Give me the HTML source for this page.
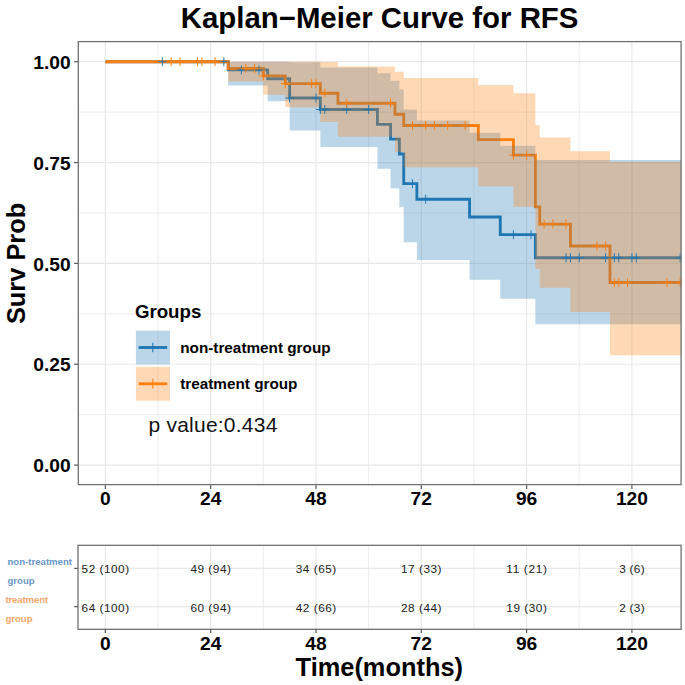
<!DOCTYPE html>
<html><head><meta charset="utf-8"><style>
html,body{margin:0;padding:0;background:#fff;}
body{width:685px;height:685px;overflow:hidden;}
svg{display:block;}
text{font-family:"Liberation Sans",sans-serif;}
</style></head><body>
<svg width="685" height="685" viewBox="0 0 685 685" font-family="Liberation Sans, sans-serif">
<rect width="685" height="685" fill="#fff"/>
<defs><clipPath id="cp"><rect x="77.93" y="41.53" width="603.37" height="443.74"/></clipPath>
<clipPath id="cr"><rect x="77.93" y="545.3" width="603.37" height="84.00"/></clipPath></defs>
<text x="379.6" y="28.1" text-anchor="middle" font-weight="bold" font-size="29.4">Kaplan−Meier Curve for RFS</text>
<g clip-path="url(#cp)">
<line x1="105.35" y1="41.53" x2="105.35" y2="485.27" stroke="#E8E8E8" stroke-width="1.2"/><line x1="158.01" y1="41.53" x2="158.01" y2="485.27" stroke="#E8E8E8" stroke-width="0.85"/><line x1="210.66" y1="41.53" x2="210.66" y2="485.27" stroke="#E8E8E8" stroke-width="1.2"/><line x1="263.32" y1="41.53" x2="263.32" y2="485.27" stroke="#E8E8E8" stroke-width="0.85"/><line x1="315.97" y1="41.53" x2="315.97" y2="485.27" stroke="#E8E8E8" stroke-width="1.2"/><line x1="368.63" y1="41.53" x2="368.63" y2="485.27" stroke="#E8E8E8" stroke-width="0.85"/><line x1="421.29" y1="41.53" x2="421.29" y2="485.27" stroke="#E8E8E8" stroke-width="1.2"/><line x1="473.94" y1="41.53" x2="473.94" y2="485.27" stroke="#E8E8E8" stroke-width="0.85"/><line x1="526.60" y1="41.53" x2="526.60" y2="485.27" stroke="#E8E8E8" stroke-width="1.2"/><line x1="579.25" y1="41.53" x2="579.25" y2="485.27" stroke="#E8E8E8" stroke-width="0.85"/><line x1="631.91" y1="41.53" x2="631.91" y2="485.27" stroke="#E8E8E8" stroke-width="1.2"/><line x1="77.93" y1="465.10" x2="681.3" y2="465.10" stroke="#E8E8E8" stroke-width="1.2"/><line x1="77.93" y1="414.68" x2="681.3" y2="414.68" stroke="#E8E8E8" stroke-width="0.85"/><line x1="77.93" y1="364.25" x2="681.3" y2="364.25" stroke="#E8E8E8" stroke-width="1.2"/><line x1="77.93" y1="313.83" x2="681.3" y2="313.83" stroke="#E8E8E8" stroke-width="0.85"/><line x1="77.93" y1="263.40" x2="681.3" y2="263.40" stroke="#E8E8E8" stroke-width="1.2"/><line x1="77.93" y1="212.98" x2="681.3" y2="212.98" stroke="#E8E8E8" stroke-width="0.85"/><line x1="77.93" y1="162.55" x2="681.3" y2="162.55" stroke="#E8E8E8" stroke-width="1.2"/><line x1="77.93" y1="112.13" x2="681.3" y2="112.13" stroke="#E8E8E8" stroke-width="0.85"/><line x1="77.93" y1="61.70" x2="681.3" y2="61.70" stroke="#E8E8E8" stroke-width="1.2"/>
<path d="M105.35,61.70H228.21V69.93H267.71V78.71H289.65V98.03H320.36V109.50H377.41V124.32H390.57V139.14H399.35V153.95H403.73V183.59H416.90V199.23H469.55V216.95H500.27V234.68H535.37V257.72H690" stroke="#1F77B4" stroke-width="2.85" fill="none"/>
<path d="M105.35,61.70H228.21V68.54H263.32V75.88H285.26V83.67H320.36V93.20H337.91V103.25H394.96V114.22H403.73V125.54H478.33V139.68H513.43V155.18H535.37V206.83H539.76V224.05H570.48V245.97H609.97V282.49H690" stroke="#FF7F0E" stroke-width="2.85" fill="none"/>
<path d="M105.35,61.70H228.21V61.70H267.71V61.70H289.65V62.30H320.36V67.44H377.41V73.31H390.57V80.86H399.35V89.57H403.73V109.47H416.90V120.56H469.55V132.69H500.27V145.72H535.37V159.92H690.00V324.18H535.37V298.86H500.27V279.86H469.55V259.93H416.90V242.26H403.73V207.30H399.35V188.57H390.57V168.69H377.41V147.12H320.36V130.59H289.65V101.14H267.71V85.58H228.21V61.70H105.35Z" fill="#1F77B4" fill-opacity="0.3"/>
<path d="M105.35,61.70H228.21V61.70H263.32V61.70H285.26V61.70H320.36V61.99H337.91V66.46H394.96V71.81H403.73V78.03H478.33V85.03H513.43V93.18H535.37V124.89H539.76V137.44H570.48V151.20H609.97V161.86H690.00V355.13H609.97V312.12H570.48V287.77H539.76V269.04H535.37V206.84H513.43V186.48H478.33V167.21H403.73V152.05H394.96V136.65H337.91V122.00H320.36V107.14H285.26V94.73H263.32V81.60H228.21V61.70H105.35Z" fill="#FF7F0E" fill-opacity="0.3"/>
<path d="M157.89,61.70H166.89M162.39,57.20V66.20M219.33,61.70H228.33M223.83,57.20V66.20M236.88,69.93H245.88M241.38,65.43V74.43M254.43,69.93H263.43M258.93,65.43V74.43M285.15,98.03H294.15M289.65,93.53V102.53M311.47,98.03H320.47M315.97,93.53V102.53M315.86,109.50H324.86M320.36,105.00V114.00M320.25,109.50H329.25M324.75,105.00V114.00M342.19,109.50H351.19M346.69,105.00V114.00M364.13,109.50H373.13M368.63,105.00V114.00M408.01,183.59H417.01M412.51,179.09V188.09M421.17,199.23H430.17M425.67,194.73V203.73M508.93,234.68H517.93M513.43,230.18V239.18M526.49,234.68H535.49M530.99,230.18V239.18M561.59,257.72H570.59M566.09,253.22V262.22M565.98,257.72H574.98M570.48,253.22V262.22M574.75,257.72H583.75M579.25,253.22V262.22M601.08,257.72H610.08M605.58,253.22V262.22M609.86,257.72H618.86M614.36,253.22V262.22M614.25,257.72H623.25M618.75,253.22V262.22M627.41,257.72H636.41M631.91,253.22V262.22M631.80,257.72H640.80M636.30,253.22V262.22M675.68,257.72H684.68M680.18,253.22V262.22" stroke="#1F77B4" stroke-width="0.95" fill="none"/>
<path d="M166.67,61.70H175.67M171.17,57.20V66.20M175.45,61.70H184.45M179.95,57.20V66.20M193.00,61.70H202.00M197.50,57.20V66.20M197.39,61.70H206.39M201.89,57.20V66.20M210.55,61.70H219.55M215.05,57.20V66.20M241.27,68.54H250.27M245.77,64.04V73.04M250.04,68.54H259.04M254.54,64.04V73.04M258.82,75.88H267.82M263.32,71.38V80.38M280.76,83.67H289.76M285.26,79.17V88.17M307.09,83.67H316.09M311.59,79.17V88.17M311.47,83.67H320.47M315.97,79.17V88.17M320.25,93.20H329.25M324.75,88.70V97.70M342.19,103.25H351.19M346.69,98.75V107.75M386.07,103.25H395.07M390.57,98.75V107.75M408.01,125.54H417.01M412.51,121.04V130.04M421.17,125.54H430.17M425.67,121.04V130.04M429.95,125.54H438.95M434.45,121.04V130.04M443.11,125.54H452.11M447.61,121.04V130.04M460.67,125.54H469.67M465.17,121.04V130.04M508.93,155.18H517.93M513.43,150.68V159.68M522.10,155.18H531.10M526.60,150.68V159.68M539.65,224.05H548.65M544.15,219.55V228.55M548.43,224.05H557.43M552.93,219.55V228.55M561.59,224.05H570.59M566.09,219.55V228.55M592.31,245.97H601.31M596.81,241.47V250.47M601.08,245.97H610.08M605.58,241.47V250.47M609.86,282.49H618.86M614.36,277.99V286.99M614.25,282.49H623.25M618.75,277.99V286.99M623.02,282.49H632.02M627.52,277.99V286.99M662.51,282.49H671.51M667.01,277.99V286.99M675.68,282.49H684.68M680.18,277.99V286.99" stroke="#FF7F0E" stroke-width="0.95" fill="none"/>
</g>
<rect x="78.3" y="41.6" width="602.8" height="443.0" fill="none" stroke="#707070" stroke-width="1.3"/>
<text x="70.7" y="68.80" text-anchor="end" font-weight="bold" font-size="19.2" fill="#000">1.00</text><line x1="74.2" y1="61.70" x2="77.93" y2="61.70" stroke="#555" stroke-width="1.2"/><text x="70.7" y="169.65" text-anchor="end" font-weight="bold" font-size="19.2" fill="#000">0.75</text><line x1="74.2" y1="162.55" x2="77.93" y2="162.55" stroke="#555" stroke-width="1.2"/><text x="70.7" y="270.50" text-anchor="end" font-weight="bold" font-size="19.2" fill="#000">0.50</text><line x1="74.2" y1="263.40" x2="77.93" y2="263.40" stroke="#555" stroke-width="1.2"/><text x="70.7" y="371.35" text-anchor="end" font-weight="bold" font-size="19.2" fill="#000">0.25</text><line x1="74.2" y1="364.25" x2="77.93" y2="364.25" stroke="#555" stroke-width="1.2"/><text x="70.7" y="472.20" text-anchor="end" font-weight="bold" font-size="19.2" fill="#000">0.00</text><line x1="74.2" y1="465.10" x2="77.93" y2="465.10" stroke="#555" stroke-width="1.2"/>
<line x1="105.35" y1="485.27" x2="105.35" y2="488.97" stroke="#555" stroke-width="1.2"/><text x="105.35" y="505.3" text-anchor="middle" font-weight="bold" font-size="19.2">0</text><line x1="210.66" y1="485.27" x2="210.66" y2="488.97" stroke="#555" stroke-width="1.2"/><text x="210.66" y="505.3" text-anchor="middle" font-weight="bold" font-size="19.2">24</text><line x1="315.97" y1="485.27" x2="315.97" y2="488.97" stroke="#555" stroke-width="1.2"/><text x="315.97" y="505.3" text-anchor="middle" font-weight="bold" font-size="19.2">48</text><line x1="421.29" y1="485.27" x2="421.29" y2="488.97" stroke="#555" stroke-width="1.2"/><text x="421.29" y="505.3" text-anchor="middle" font-weight="bold" font-size="19.2">72</text><line x1="526.60" y1="485.27" x2="526.60" y2="488.97" stroke="#555" stroke-width="1.2"/><text x="526.60" y="505.3" text-anchor="middle" font-weight="bold" font-size="19.2">96</text><line x1="631.91" y1="485.27" x2="631.91" y2="488.97" stroke="#555" stroke-width="1.2"/><text x="631.91" y="505.3" text-anchor="middle" font-weight="bold" font-size="19.2">120</text>
<text transform="translate(24.9,263.4) rotate(-90)" text-anchor="middle" font-weight="bold" font-size="25.4">Surv Prob</text>
<text x="134.9" y="317.9" font-weight="bold" font-size="18.7">Groups</text>
<rect x="135.9" y="330.6" width="34.1" height="33.8" fill="none"/>
<line x1="138.7" y1="347.5" x2="167.2" y2="347.5" stroke="#1F77B4" stroke-width="2.85"/>
<rect x="135.9" y="330.6" width="34.1" height="33.8" fill="#1F77B4" fill-opacity="0.3"/>
<path d="M148.1,347.5H157.5M152.8,342.8V352.2" stroke="#1F77B4" stroke-width="1.1"/>
<line x1="138.7" y1="383.8" x2="167.2" y2="383.8" stroke="#FF7F0E" stroke-width="2.85"/>
<rect x="135.9" y="366.9" width="34.1" height="33.8" fill="#FF7F0E" fill-opacity="0.3"/>
<path d="M148.1,383.8H157.5M152.8,379.1V388.5" stroke="#FF7F0E" stroke-width="1.1"/>
<text x="180.2" y="353.3" font-weight="bold" font-size="15.3">non-treatment group</text>
<text x="180.2" y="389.4" font-weight="bold" font-size="15.3">treatment group</text>
<text x="148.4" y="432.2" font-size="21" fill="#111" textLength="129" lengthAdjust="spacing">p value:0.434</text>
<g clip-path="url(#cr)"><line x1="105.35" y1="545.3" x2="105.35" y2="629.3" stroke="#E8E8E8" stroke-width="1.2"/><line x1="158.01" y1="545.3" x2="158.01" y2="629.3" stroke="#E8E8E8" stroke-width="0.85"/><line x1="210.66" y1="545.3" x2="210.66" y2="629.3" stroke="#E8E8E8" stroke-width="1.2"/><line x1="263.32" y1="545.3" x2="263.32" y2="629.3" stroke="#E8E8E8" stroke-width="0.85"/><line x1="315.97" y1="545.3" x2="315.97" y2="629.3" stroke="#E8E8E8" stroke-width="1.2"/><line x1="368.63" y1="545.3" x2="368.63" y2="629.3" stroke="#E8E8E8" stroke-width="0.85"/><line x1="421.29" y1="545.3" x2="421.29" y2="629.3" stroke="#E8E8E8" stroke-width="1.2"/><line x1="473.94" y1="545.3" x2="473.94" y2="629.3" stroke="#E8E8E8" stroke-width="0.85"/><line x1="526.60" y1="545.3" x2="526.60" y2="629.3" stroke="#E8E8E8" stroke-width="1.2"/><line x1="579.25" y1="545.3" x2="579.25" y2="629.3" stroke="#E8E8E8" stroke-width="0.85"/><line x1="631.91" y1="545.3" x2="631.91" y2="629.3" stroke="#E8E8E8" stroke-width="1.2"/><line x1="77.93" y1="568.4" x2="681.3" y2="568.4" stroke="#E8E8E8" stroke-width="1.2"/><line x1="77.93" y1="606.6" x2="681.3" y2="606.6" stroke="#E8E8E8" stroke-width="1.2"/></g>
<text x="105.35" y="573.40" text-anchor="middle" font-size="11.8" fill="#222" textLength="47.5" lengthAdjust="spacing">52 (100)</text><text x="105.35" y="611.60" text-anchor="middle" font-size="11.8" fill="#222" textLength="47.5" lengthAdjust="spacing">64 (100)</text><text x="210.66" y="573.40" text-anchor="middle" font-size="11.8" fill="#222" textLength="40.5" lengthAdjust="spacing">49 (94)</text><text x="210.66" y="611.60" text-anchor="middle" font-size="11.8" fill="#222" textLength="40.5" lengthAdjust="spacing">60 (94)</text><text x="315.97" y="573.40" text-anchor="middle" font-size="11.8" fill="#222" textLength="40.5" lengthAdjust="spacing">34 (65)</text><text x="315.97" y="611.60" text-anchor="middle" font-size="11.8" fill="#222" textLength="40.5" lengthAdjust="spacing">42 (66)</text><text x="421.29" y="573.40" text-anchor="middle" font-size="11.8" fill="#222" textLength="40.5" lengthAdjust="spacing">17 (33)</text><text x="421.29" y="611.60" text-anchor="middle" font-size="11.8" fill="#222" textLength="40.5" lengthAdjust="spacing">28 (44)</text><text x="526.60" y="573.40" text-anchor="middle" font-size="11.8" fill="#222" textLength="40.5" lengthAdjust="spacing">11 (21)</text><text x="526.60" y="611.60" text-anchor="middle" font-size="11.8" fill="#222" textLength="40.5" lengthAdjust="spacing">19 (30)</text><text x="631.91" y="573.40" text-anchor="middle" font-size="11.8" fill="#222" textLength="25.5" lengthAdjust="spacing">3 (6)</text><text x="631.91" y="611.60" text-anchor="middle" font-size="11.8" fill="#222" textLength="25.5" lengthAdjust="spacing">2 (3)</text>
<rect x="78.0" y="545.3" width="603.1" height="84.00" fill="none" stroke="#707070" stroke-width="1.3"/>
<line x1="74.2" y1="568.4" x2="77.93" y2="568.4" stroke="#555" stroke-width="1.2"/><line x1="74.2" y1="606.6" x2="77.93" y2="606.6" stroke="#555" stroke-width="1.2"/>
<line x1="105.35" y1="629.3" x2="105.35" y2="633.00" stroke="#555" stroke-width="1.2"/><text x="105.35" y="649.8" text-anchor="middle" font-weight="bold" font-size="19.2">0</text><line x1="210.66" y1="629.3" x2="210.66" y2="633.00" stroke="#555" stroke-width="1.2"/><text x="210.66" y="649.8" text-anchor="middle" font-weight="bold" font-size="19.2">24</text><line x1="315.97" y1="629.3" x2="315.97" y2="633.00" stroke="#555" stroke-width="1.2"/><text x="315.97" y="649.8" text-anchor="middle" font-weight="bold" font-size="19.2">48</text><line x1="421.29" y1="629.3" x2="421.29" y2="633.00" stroke="#555" stroke-width="1.2"/><text x="421.29" y="649.8" text-anchor="middle" font-weight="bold" font-size="19.2">72</text><line x1="526.60" y1="629.3" x2="526.60" y2="633.00" stroke="#555" stroke-width="1.2"/><text x="526.60" y="649.8" text-anchor="middle" font-weight="bold" font-size="19.2">96</text><line x1="631.91" y1="629.3" x2="631.91" y2="633.00" stroke="#555" stroke-width="1.2"/><text x="631.91" y="649.8" text-anchor="middle" font-weight="bold" font-size="19.2">120</text>
<text x="7.5" y="565.3" font-weight="bold" font-size="9.6" fill="#6A97C6">non-treatment</text>
<text x="7.5" y="583.6" font-weight="bold" font-size="9.6" fill="#6A97C6">group</text>
<text x="5.4" y="602.9" font-weight="bold" font-size="9.6" fill="#F5A66A" textLength="42.8" lengthAdjust="spacing">treatment</text>
<text x="5.4" y="621.6" font-weight="bold" font-size="9.6" fill="#F5A66A">group</text>
<text x="379.3" y="675.5" text-anchor="middle" font-weight="bold" font-size="25.4">Time(months)</text>
</svg>
</body></html>
